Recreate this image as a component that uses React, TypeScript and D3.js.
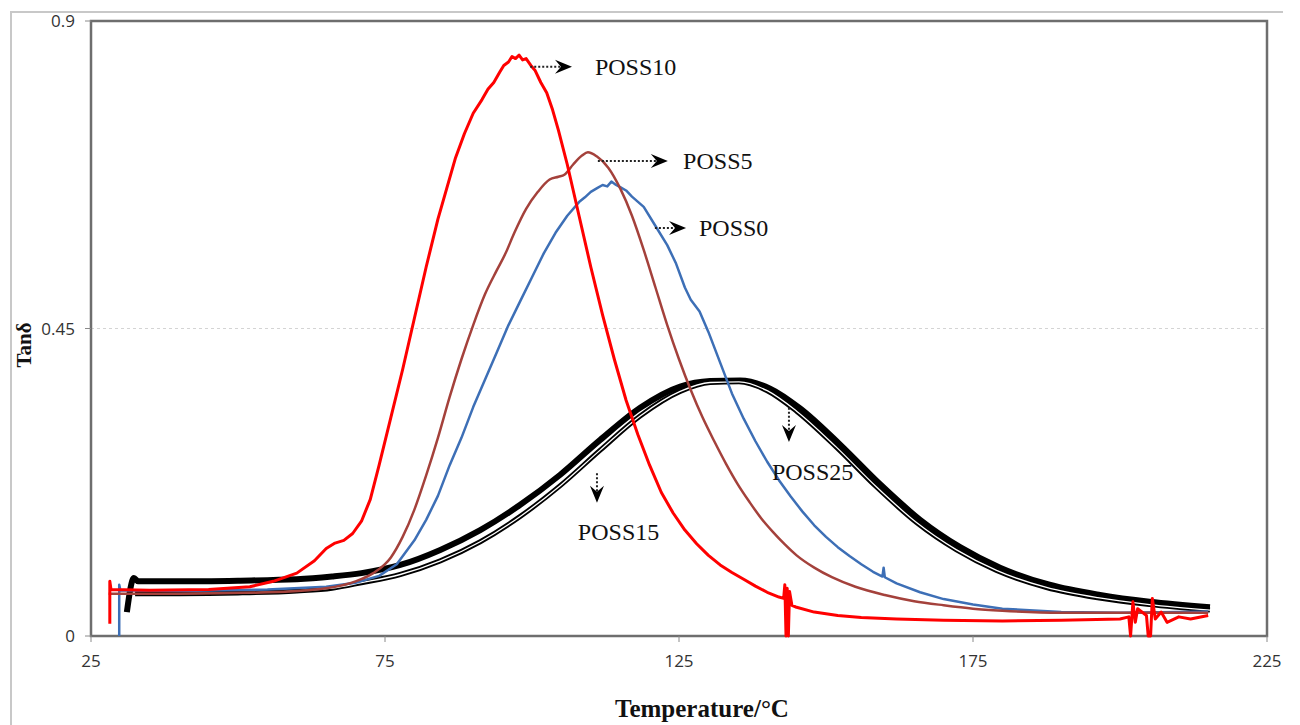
import React from "react";
import * as d3 from "d3";

type P = [number, number];

const xTicks = [25, 75, 125, 175, 225];
const yTicks = [0, 0.45, 0.9];
const yTickLabels = ["0", "0.45", "0.9"];

const poss10: P[] = [
  [28.2, 0.018], [28.2, 0.08], [28.4, 0.068], [35, 0.067], [45, 0.068], [52, 0.072], [56, 0.08],
  [60, 0.092], [63, 0.11], [65, 0.128], [66.5, 0.136], [68, 0.14], [69.5, 0.15], [71, 0.168],
  [72.5, 0.2], [74, 0.25], [76, 0.32], [78, 0.39], [80, 0.465], [82, 0.54], [84, 0.61],
  [85.5, 0.655], [87, 0.7], [88.5, 0.735], [90, 0.765], [91.5, 0.785], [92.5, 0.8], [93.5, 0.81],
  [94.5, 0.825], [95.2, 0.835], [96, 0.84], [96.6, 0.848], [97.2, 0.845], [97.8, 0.85],
  [98.4, 0.843], [99, 0.845], [99.8, 0.835], [100.5, 0.828], [101.5, 0.81], [102.5, 0.795],
  [103.5, 0.77], [104.5, 0.74], [106, 0.69], [108, 0.615], [110, 0.54], [112, 0.47],
  [114, 0.405], [116, 0.345], [118, 0.295], [120, 0.25], [122, 0.21], [124, 0.18],
  [126, 0.155], [128, 0.135], [130, 0.118], [132, 0.104], [134, 0.093], [136, 0.083],
  [138, 0.073], [140, 0.064], [142, 0.057], [142.8, 0.055], [143, 0.075], [143.2, 0],
  [143.4, 0.07], [143.6, 0], [143.8, 0.065], [144.2, 0.045], [145, 0.042], [148, 0.035],
  [152, 0.03], [156, 0.027], [162, 0.025], [170, 0.023], [180, 0.022], [190, 0.023],
  [200, 0.025], [201.5, 0.028], [201.8, 0], [202.2, 0.05], [202.6, 0.02], [203, 0.04],
  [204.5, 0.03], [204.8, 0], [205.2, 0], [205.5, 0.055], [206, 0.025], [207, 0.035],
  [208, 0.02], [210, 0.028], [212, 0.025], [215, 0.03],
];

const poss0: P[] = [
  [29.8, 0], [29.8, 0.075], [30, 0.067], [40, 0.066], [55, 0.068], [65, 0.072], [70, 0.078],
  [74, 0.088], [77, 0.105], [80, 0.14], [82, 0.17], [84, 0.205], [86, 0.25], [88, 0.29],
  [90, 0.335], [92, 0.375], [94, 0.415], [96, 0.455], [98, 0.49], [100, 0.525], [102, 0.56],
  [104, 0.59], [106, 0.615], [108, 0.635], [109, 0.642], [110, 0.65], [111, 0.655],
  [112, 0.66], [112.8, 0.658], [113.5, 0.665], [114.3, 0.66], [115, 0.657], [116, 0.652],
  [117, 0.643], [119, 0.628], [121, 0.6], [123, 0.572], [124.5, 0.545],
  [126, 0.51], [127, 0.492], [128.5, 0.475], [130, 0.445], [132, 0.4], [134, 0.355],
  [136, 0.318], [138, 0.285], [140, 0.255], [142, 0.228], [144, 0.204], [146, 0.182],
  [148, 0.162], [150, 0.145], [152, 0.13], [154, 0.117], [156, 0.105], [158, 0.094],
  [159.6, 0.087], [159.8, 0.1], [160, 0.086], [162, 0.077], [166, 0.064], [170, 0.054],
  [175, 0.046], [180, 0.04], [190, 0.035], [200, 0.034], [210, 0.035], [215, 0.036],
];

const poss5: P[] = [
  [28, 0.062], [40, 0.062], [55, 0.064], [65, 0.07], [70, 0.08], [73, 0.092], [76, 0.115],
  [78, 0.145], [80, 0.185], [82, 0.235], [84, 0.29], [86, 0.35], [88, 0.405], [90, 0.455],
  [92, 0.5], [94, 0.535], [95.5, 0.56], [97, 0.59], [99, 0.625], [101, 0.65], [103, 0.668],
  [104.5, 0.672], [105.5, 0.675], [107, 0.69], [108.5, 0.703], [109.5, 0.708], [111, 0.702],
  [113, 0.685], [115, 0.655], [117, 0.615], [119, 0.565], [121, 0.51], [123, 0.455],
  [125, 0.405], [127, 0.36], [129, 0.32], [131, 0.285], [133, 0.252], [135, 0.222],
  [137, 0.196], [139, 0.172], [141, 0.152], [143, 0.134], [145, 0.118], [148, 0.1],
  [151, 0.086], [155, 0.072], [160, 0.06], [165, 0.051], [170, 0.045], [175, 0.04],
  [180, 0.037], [190, 0.034], [200, 0.034], [215, 0.034],
];

const poss25: P[] = [
  [31.1, 0.035], [32.3, 0.085], [33, 0.08], [40, 0.08], [50, 0.081], [60, 0.083], [66, 0.087],
  [71, 0.092], [77.6, 0.104], [84.4, 0.126], [91.2, 0.155], [98, 0.192], [104.8, 0.236],
  [111.6, 0.287], [118.4, 0.334], [125.2, 0.365], [130.3, 0.373], [135.4, 0.374],
  [140.5, 0.362], [145.6, 0.333], [152.4, 0.28], [159.2, 0.222], [166, 0.17], [172.8, 0.13],
  [179.6, 0.1], [188, 0.075], [196.6, 0.06], [205, 0.05], [215.3, 0.042],
];

const poss15: P[] = [
  [32.5, 0.062], [40, 0.062], [50, 0.063], [60, 0.066], [66, 0.07], [71, 0.078], [77.6, 0.09],
  [84.4, 0.11], [91.2, 0.138], [98, 0.175], [104.8, 0.22], [111.6, 0.272], [118.4, 0.322],
  [125.2, 0.358], [130.3, 0.371], [135.2, 0.372], [140, 0.359], [145, 0.329],
  [151.8, 0.276], [158.6, 0.218], [165.4, 0.166], [172.2, 0.126], [179, 0.096], [187.5, 0.071],
  [196.2, 0.056], [205, 0.046], [215.3, 0.038],
];

// annotation anchors in data coords: arrow start, arrow tip, label baseline start
const labels = [
  { name: "POSS10", from: [99.7, 0.833], to: [106.8, 0.833], text: [110.7, 0.821], dir: "h" },
  { name: "POSS5", from: [111.2, 0.695], to: [123.1, 0.695], text: [125.7, 0.684], dir: "h" },
  { name: "POSS0", from: [120.9, 0.597], to: [126.2, 0.597], text: [128.4, 0.586], dir: "h" },
  { name: "POSS25", from: [143.7, 0.334], to: [143.7, 0.284], text: [140.8, 0.228], dir: "v" },
  { name: "POSS15", from: [111.05, 0.238], to: [111.05, 0.195], text: [107.8, 0.1405], dir: "v" },
];

const L = 91, R = 1267, T = 21, B = 636;

export default function App() {
  const x = d3.scaleLinear().domain([25, 225]).range([L, R]);
  const y = d3.scaleLinear().domain([0, 0.9]).range([B, T]);
  const lin = d3.line<P>().x((d) => x(d[0])).y((d) => y(d[1])).curve(d3.curveLinear);
  const smooth = d3.line<P>().x((d) => x(d[0])).y((d) => y(d[1])).curve(d3.curveMonotoneX);

  const arrowHead = (px: number, py: number, dir: string) => {
    const len = 17, w = 7, notch = 6;
    if (dir === "h") {
      return `M${px},${py} L${px - len},${py - w} L${px - len + notch},${py} L${px - len},${py + w} Z`;
    }
    return `M${px},${py} L${px - w},${py - len} L${px},${py - len + notch} L${px + w},${py - len} Z`;
  };

  return (
    <svg width={1300} height={725} style={{ position: "absolute", left: 0, top: 0, background: "#fff" }}>
      <line x1={10} x2={1283} y1={12} y2={12} stroke="#c8c8c8" strokeWidth={2} />
      <line x1={11} x2={11} y1={12} y2={725} stroke="#c8c8c8" strokeWidth={2} />

      <line x1={L} x2={R} y1={y(0.45)} y2={y(0.45)} stroke="#d4d4d4" strokeWidth={1} strokeDasharray="3,3" />

      <rect x={L} y={T} width={R - L} height={B - T} fill="none" stroke="#6e6e6e" strokeWidth={2.5} />

      {xTicks.map((t) => (
        <g key={"xt" + t}>
          <line x1={x(t)} x2={x(t)} y1={B} y2={B + 6} stroke="#8a8a8a" strokeWidth={1} />
          <text x={x(t)} y={B + 31} textAnchor="middle" fontFamily="'Open Sans', sans-serif" fontSize={17} fill="#333">{t}</text>
        </g>
      ))}
      {yTicks.map((t, i) => (
        <g key={"yt" + t}>
          <line x1={L - 6} x2={L} y1={y(t)} y2={y(t)} stroke="#8a8a8a" strokeWidth={1} />
          <text x={L - 16} y={y(t) + 6} textAnchor="end" fontFamily="'Open Sans', sans-serif" fontSize={17} fill="#333">{yTickLabels[i]}</text>
        </g>
      ))}

      <text transform={`translate(31,345) rotate(-90)`} textAnchor="middle" fontFamily="'Liberation Serif', serif" fontWeight="bold" fontSize={21} fill="#111">Tanδ</text>
      <text x={702} y={717} textAnchor="middle" fontFamily="'Liberation Serif', serif" fontWeight="bold" fontSize={25} fill="#111">Temperature/°C</text>

      <path d={smooth(poss25) ?? ""} fill="none" stroke="#000" strokeWidth={6} />
      <path d={smooth(poss15) ?? ""} fill="none" stroke="#000" strokeWidth={5} />
      <path d={smooth(poss15) ?? ""} fill="none" stroke="#fff" strokeWidth={1.3} />
      <path d={lin(poss0) ?? ""} fill="none" stroke="#3d6fb6" strokeWidth={2.5} strokeLinejoin="round" />
      <path d={smooth(poss5) ?? ""} fill="none" stroke="#a4413b" strokeWidth={2.5} />
      <path d={lin(poss10) ?? ""} fill="none" stroke="#ff0000" strokeWidth={3} strokeLinejoin="round" />

      {labels.map((lb) => {
        const x1 = x(lb.from[0]), y1 = y(lb.from[1]);
        const x2 = x(lb.to[0]), y2 = y(lb.to[1]);
        const lineEndX = lb.dir === "h" ? x2 - 10 : x2;
        const lineEndY = lb.dir === "v" ? y2 - 10 : y2;
        return (
          <g key={lb.name}>
            <line x1={x1} y1={y1} x2={lineEndX} y2={lineEndY} stroke="#222" strokeWidth={2} strokeDasharray="2,2" />
            <path d={arrowHead(x2, y2, lb.dir)} fill="#000" />
            <text x={x(lb.text[0])} y={y(lb.text[1])} fontFamily="'Liberation Serif', serif" fontSize={24} fill="#111">{lb.name}</text>
          </g>
        );
      })}
    </svg>
  );
}
